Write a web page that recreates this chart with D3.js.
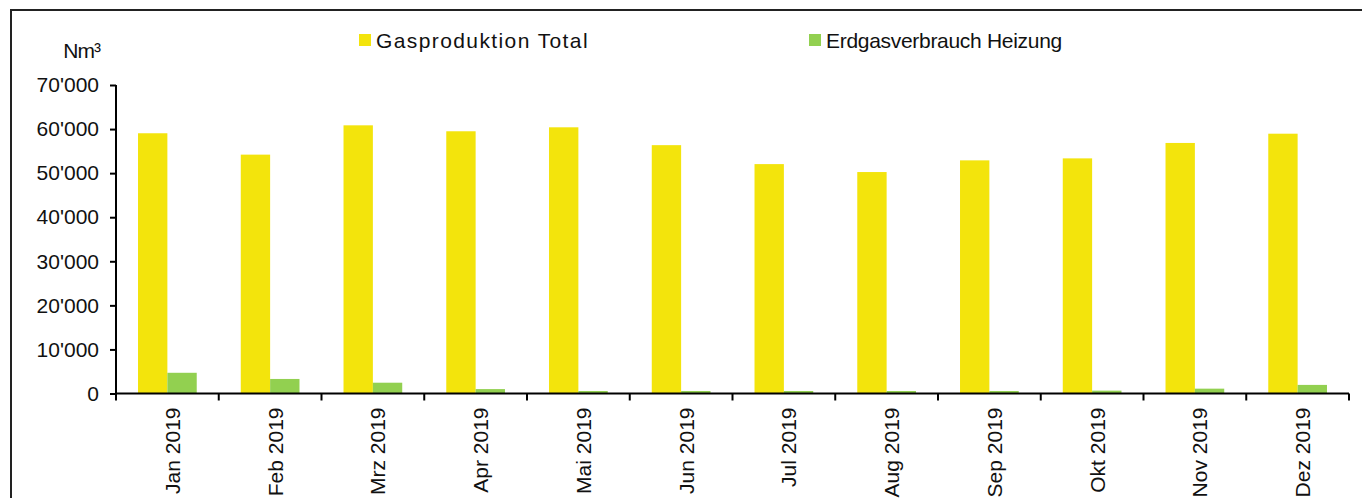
<!DOCTYPE html>
<html>
<head>
<meta charset="utf-8">
<script src="https://cdn.jsdelivr.net/npm/d3@7"></script>
<style>
  html, body { margin: 0; padding: 0; background: #fff; }
  svg { display: block; }
  text { font-family: "Liberation Sans", Arial, sans-serif; fill: #111; }
</style>
</head>
<body>
<svg id="chart" width="1362" height="498"></svg>
<script>
// Monthly gas figures 2019 (Nm³)
const months = ["Jan 2019", "Feb 2019", "Mrz 2019", "Apr 2019", "Mai 2019", "Jun 2019",
                "Jul 2019", "Aug 2019", "Sep 2019", "Okt 2019", "Nov 2019", "Dez 2019"];
const seriesNames = ["Gasproduktion Total", "Erdgasverbrauch Heizung"];
const gasProduktion = [59050, 54200, 60850, 59500, 60400, 56350, 52050, 50250, 52900, 53350, 56850, 58950];
const erdgasHeizung = [4700, 3300, 2450, 1000, 570, 570, 570, 570, 570, 650, 1100, 1950];
const yTicks = [0, 10000, 20000, 30000, 40000, 50000, 60000, 70000];
const unitLabel = "Nm³";

const colors = { "Gasproduktion Total": "#F3E40C", "Erdgasverbrauch Heizung": "#92D050" };
const seriesValues = { "Gasproduktion Total": gasProduktion, "Erdgasverbrauch Heizung": erdgasHeizung };

const svg = d3.select("#chart");

// outer frame
svg.append("rect")
  .attr("x", 11).attr("y", 10)
  .attr("width", 1362).attr("height", 520)
  .attr("fill", "none").attr("stroke", "#222").attr("stroke-width", 2);

const plot = { left: 116, right: 1349, top: 85, bottom: 393.5 };

const x0 = d3.scaleBand().domain(months).range([plot.left, plot.right]).padding(0);
const x1 = d3.scaleBand().domain(seriesNames).range([0, x0.bandwidth()])
  .paddingInner(0).paddingOuter(0.75);
const y = d3.scaleLinear().domain([0, 70000]).range([plot.bottom, plot.top]);

const fmt = v => d3.format(",")(v).replace(/,/g, "'");

// bars
const groups = svg.append("g").selectAll("g")
  .data(months)
  .join("g")
  .attr("transform", d => `translate(${x0(d)},0)`);

groups.selectAll("rect")
  .data((m, i) => seriesNames.map(s => ({ s, v: seriesValues[s][i] })))
  .join("rect")
  .attr("x", d => x1(d.s))
  .attr("width", x1.bandwidth())
  .attr("y", d => y(d.v))
  .attr("height", d => y(0) - y(d.v))
  .attr("fill", d => colors[d.s]);

// y axis
const yAxis = svg.append("g")
  .attr("transform", `translate(${plot.left},0)`)
  .call(d3.axisLeft(y).tickValues(yTicks).tickSize(6).tickPadding(11).tickFormat(fmt));
yAxis.select(".domain").attr("stroke", "#000").attr("stroke-width", 2)
  .attr("d", `M0,${plot.bottom}V${plot.top}`);
yAxis.selectAll(".tick line").attr("stroke", "#000").attr("stroke-width", 2);
yAxis.selectAll(".tick text")
  .style("font-size", "21px").style("font-family", "'Liberation Sans', Arial, sans-serif")
  .attr("fill", "#111");

// unit label
svg.append("text")
  .attr("x", plot.left - 16).attr("y", 58)
  .attr("text-anchor", "end")
  .style("font-size", "21px")
  .style("letter-spacing", "-1px")
  .text(unitLabel);

// x axis with ticks on category boundaries
const boundaries = months.map(m => x0(m)).concat([plot.right]);
const xAxis = svg.append("g");
xAxis.append("line")
  .attr("x1", plot.left).attr("x2", plot.right)
  .attr("y1", y(0)).attr("y2", y(0))
  .attr("stroke", "#000").attr("stroke-width", 2);
xAxis.selectAll("line.tick")
  .data(boundaries)
  .join("line")
  .attr("class", "tick")
  .attr("x1", d => d).attr("x2", d => d)
  .attr("y1", y(0)).attr("y2", y(0) + 7)
  .attr("stroke", "#000").attr("stroke-width", 2);

// rotated month labels
xAxis.selectAll("text")
  .data(months)
  .join("text")
  .attr("transform", d => `translate(${x0(d) + x0.bandwidth() / 2},${y(0) + 14}) rotate(-90)`)
  .attr("text-anchor", "end")
  .attr("dy", "0.6em")
  .style("font-size", "21px")
  .text(d => d);

// legend
const legendX = { "Gasproduktion Total": 359, "Erdgasverbrauch Heizung": 809 };
const legendSpacing = { "Gasproduktion Total": "1.4px", "Erdgasverbrauch Heizung": "-0.3px" };
const legend = svg.append("g").selectAll("g")
  .data(seriesNames)
  .join("g")
  .attr("transform", d => `translate(${legendX[d]},34)`);
legend.append("rect")
  .attr("width", 12).attr("height", 12)
  .attr("fill", d => colors[d]);
legend.append("text")
  .attr("x", 17).attr("y", 14)
  .style("font-size", "21px")
  .style("letter-spacing", d => legendSpacing[d])
  .text(d => d);
</script>
</body>
</html>
